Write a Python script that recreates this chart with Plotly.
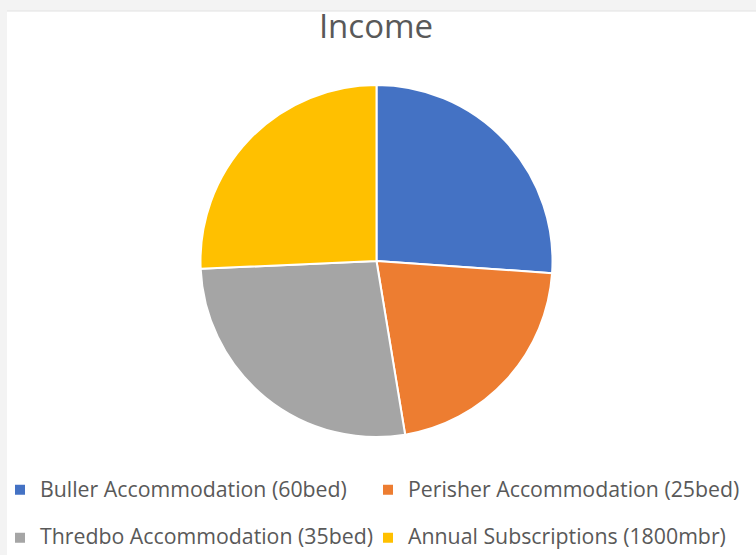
import plotly.graph_objects as go

categories = [
    "Buller Accommodation (60bed)",
    "Perisher Accommodation (25bed)",
    "Thredbo Accommodation (35bed)",
    "Annual Subscriptions (1800mbr)",
]
income_share = [26.1, 21.3, 26.9, 25.7]
colors = ["#4472C4", "#ED7D31", "#A5A5A5", "#FFC000"]

W, H = 756, 555

# legend entries: larger visible text with an empty 2nd line to widen row spacing
legend_labels = ['<span style="font-size:21.3px">%s</span><br>&nbsp;' % c for c in categories]

fig = go.Figure(
    go.Pie(
        labels=legend_labels,
        values=income_share,
        sort=False,
        direction="clockwise",
        rotation=0,
        textinfo="none",
        marker=dict(colors=colors, line=dict(color="white", width=2)),
        domain=dict(x=[200 / W, 553 / W], y=[1 - 437 / H, 1 - 85 / H]),
        hoverinfo="label+percent",
    )
)

fig.update_layout(
    width=W,
    height=H,
    margin=dict(l=0, r=0, t=0, b=0, autoexpand=False),
    paper_bgcolor="white",
    plot_bgcolor="white",
    title=dict(
        text="Income",
        x=376 / W,
        xanchor="center",
        y=1 - 26 / H,
        yanchor="middle",
        font=dict(family="Open Sans", size=33, color="#595959"),
    ),
    showlegend=True,
    legend=dict(
        orientation="h",
        x=0.0,
        xanchor="left",
        y=1 - 472 / H,
        yanchor="top",
        valign="top",
        entrywidth=323,
        entrywidthmode="pixels",
        font=dict(family="Open Sans", size=17.3, color="#595959"),
        bgcolor="rgba(0,0,0,0)",
    ),
    shapes=[
        dict(type="rect", xref="paper", yref="paper", x0=0, x1=1, y0=1 - 11 / H, y1=1,
             fillcolor="#f3f3f3", line=dict(width=0), layer="below"),
        dict(type="rect", xref="paper", yref="paper", x0=0, x1=7 / W, y0=0, y1=1,
             fillcolor="#f3f3f3", line=dict(width=0), layer="below"),
        dict(type="line", xref="paper", yref="paper", x0=7 / W, x1=1, y0=1 - 11 / H, y1=1 - 11 / H,
             line=dict(color="#e2e2e2", width=1)),
    ],
)

fig.write_html(
    "out.html",
    config={"displayModeBar": False},
    post_script=(
        "document.body.style.margin='0';"
        "document.querySelectorAll('.legend .scrollbox').forEach(function(e){e.removeAttribute('clip-path');});"
    ),
)
